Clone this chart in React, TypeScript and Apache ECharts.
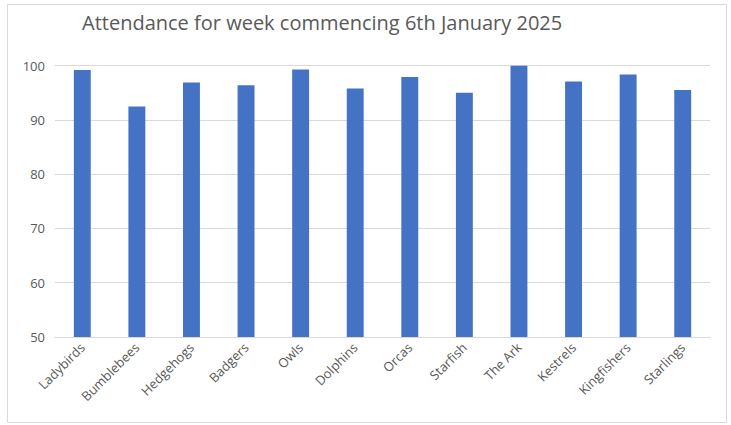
import React, { useEffect, useRef } from "react";
import * as echarts from "echarts";

const categories = [
  "Ladybirds",
  "Bumblebees",
  "Hedgehogs",
  "Badgers",
  "Owls",
  "Dolphins",
  "Orcas",
  "Starfish",
  "The Ark",
  "Kestrels",
  "Kingfishers",
  "Starlings",
];

const attendance = [99.2, 92.5, 96.9, 96.4, 99.3, 95.8, 97.9, 95.0, 100, 97.1, 98.4, 95.5];

const titleText = "Attendance for week commencing 6th January 2025";

export default function App() {
  const ref = useRef<HTMLDivElement>(null);

  useEffect(() => {
    if (!ref.current) return;
    const chart = echarts.init(ref.current, null, { renderer: "svg" });
    const font = "'Open Sans', 'Noto Sans', sans-serif";
    chart.setOption({
      animation: false,
      backgroundColor: "#ffffff",
      textStyle: { fontFamily: font },
      title: {
        text: titleText,
        left: 77,
        top: 7,
        textStyle: {
          fontFamily: font,
          fontSize: 20,
          fontWeight: "normal",
          color: "#595959",
        },
      },
      graphic: [
        {
          type: "rect",
          shape: { x: 7.5, y: 4.5, width: 719, height: 418 },
          style: { fill: "none", stroke: "#d9d9d9", lineWidth: 1 },
          silent: true,
        },
      ],
      grid: { left: 55, right: 21, top: 65.7, bottom: 88 },
      xAxis: {
        type: "category",
        data: categories,
        axisLine: { show: true, lineStyle: { color: "#d9d9d9" } },
        axisTick: { show: false },
        axisLabel: {
          rotate: 45,
          interval: 0,
          margin: 8,
          color: "#595959",
          fontSize: 13,
          fontFamily: font,
        },
      },
      yAxis: {
        type: "value",
        min: 50,
        max: 100,
        interval: 10,
        axisLine: { show: false },
        axisTick: { show: false },
        splitLine: { lineStyle: { color: "#d9d9d9", width: 1 } },
        axisLabel: { color: "#595959", fontSize: 13, margin: 10, fontFamily: font },
      },
      series: [
        {
          type: "bar",
          data: attendance,
          barWidth: "31%",
          itemStyle: { color: "#4472c4" },
        },
      ],
    });
    return () => chart.dispose();
  }, []);

  return (
    <div
      ref={ref}
      style={{ position: "absolute", left: 0, top: 0, width: 731, height: 425 }}
    />
  );
}
